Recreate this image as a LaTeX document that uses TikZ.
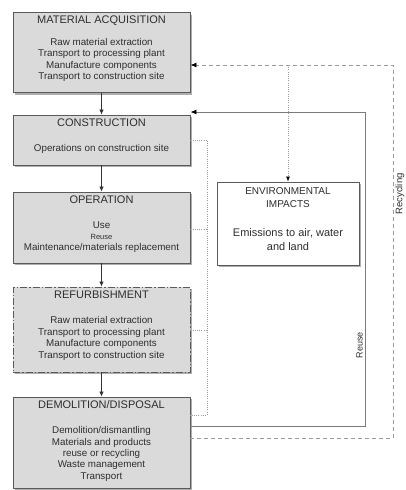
\documentclass[tikz,border=0pt]{standalone}
\usepackage{fontspec}
\setmainfont{Liberation Sans}
\usetikzlibrary{arrows.meta,shadows,calc}
\definecolor{boxfill}{HTML}{DADADA}
\definecolor{boxline}{HTML}{5A5A5A}
\definecolor{txt}{HTML}{2E2E2E}
\definecolor{linegray}{HTML}{7A7A7A}
\definecolor{dotgray}{HTML}{9A9A9A}
\tikzset{
  stage/.style={draw=boxline, fill=boxfill, line width=0.9pt, inner sep=0pt,
    minimum width=177pt,
    drop shadow={shadow xshift=1.6pt, shadow yshift=-2.2pt, opacity=0.45, fill=black!70}},
  refstage/.style={stage, dash pattern=on 7pt off 2pt on 1.5pt off 2pt},
  envbox/.style={draw=boxline, fill=white, line width=0.9pt, inner sep=0pt,
    drop shadow={shadow xshift=1.6pt, shadow yshift=-2.2pt, opacity=0.45, fill=black!70}},
  title/.style={text=txt, inner sep=0pt, font=\fontsize{11}{13}\selectfont},
  body/.style={text=txt, inner sep=0pt, align=center, font=\fontsize{9.8}{11.4}\selectfont},
  flow/.style={draw=black!80, line width=0.8pt, -{Latex[length=5pt,width=4.5pt]}},
  reuseline/.style={draw=linegray, line width=0.9pt, -{Latex[length=6pt,width=5pt,color=black]}},
  recycline/.style={draw=dotgray, line width=0.9pt, dash pattern=on 4pt off 3pt, -{Latex[length=6pt,width=5pt,color=black]}},
  impact/.style={draw=dotgray, line width=0.7pt, dash pattern=on 1pt off 1.2pt},
  sidelab/.style={text=txt, inner sep=0pt, rotate=90}
}
\begin{document}
\begin{tikzpicture}[x=1pt,y=-1pt]
\useasboundingbox (0,0) rectangle (405,490);

% stage boxes
\node[stage, minimum height=80pt] (ma) at (101.5,52.5) {};
\node[stage, minimum height=50pt] (cons) at (101.5,140) {};
\node[stage, minimum height=71pt] (oper) at (101.5,227.5) {};
\node[refstage, minimum height=85pt] (ref) at (101.5,329.5) {};
\node[stage, minimum height=91pt] (demo) at (101.5,442.5) {};
\node[envbox, minimum width=142pt, minimum height=83pt] (env) at (288,223.5) {};

% texts
\node[title] (mat) at (101.5,21) {MATERIAL ACQUISITION};
\node[body] (mab) at (101.5,60) {Raw material extraction\\Transport to processing plant\\Manufacture components\\Transport to construction site};
\node[title] (const) at (101.5,123) {CONSTRUCTION};
\node[body] (consb) at (101.5,149) {Operations on construction site};
\node[title] (opert) at (101.5,199.5) {OPERATION};
\node[body] (operb1) at (101.5,225) {Use};
\node[body, font=\fontsize{7.5}{9}\selectfont] (operb2) at (101.5,236.5) {Reuse};
\node[body] (operb3) at (101.5,248) {Maintenance/materials replacement};
\node[title] (reft) at (101.5,294.5) {REFURBISHMENT};
\node[body] (refb) at (101.5,338.5) {Raw material extraction\\Transport to processing plant\\Manufacture components\\Transport to construction site};
\node[title] (demot) at (101.5,404.5) {DEMOLITION/DISPOSAL};
\node[body] (demob) at (101.5,454) {Demolition/dismantling\\Materials and products\\reuse or recycling\\Waste management\\Transport};
\node[body, font=\fontsize{10}{12.5}\selectfont] (envt) at (288,197.5) {ENVIRONMENTAL\\IMPACTS};
\node[body, font=\fontsize{11}{14}\selectfont] (envb) at (288,240) {Emissions to air, water\\and land};

% main flow
\draw[flow] (ma) -- (cons);
\draw[flow] (cons) -- (oper);
\draw[flow] (oper) -- (ref);
\draw[flow] (ref) -- (demo);

% helper coordinates
\coordinate (ru1) at (365,426);
\coordinate (ru2) at (365,112);
\coordinate (rc1) at (393,438);
\coordinate (rc2) at (393,65);
\coordinate (bus1) at (207,140);
\coordinate (bus2) at (207,415);
\coordinate (bus3) at (207,229);
\coordinate (bus4) at (207,330);

% impacts (dotted)
\draw[impact] (cons.east |- bus1) -- (bus1) -- (bus2) -- (demo.east |- bus2);
\draw[impact] (oper.east |- bus3) -- (bus3);
\draw[impact] (ref.east |- bus4) -- (bus4);
\draw[impact, -{Latex[length=5pt,width=4pt,color=black]}] (env.north |- rc2) -- (env.north);

% reuse loop
\draw[reuseline] (demo.east |- ru1) -- (ru1) -- (ru2) -- (cons.east |- ru2);
\node[sidelab, font=\fontsize{9}{11}\selectfont] (reuselab) at (359.5,345) {Reuse};

% recycling loop
\draw[recycline] (demo.east |- rc1) -- (rc1) -- (rc2) -- (ma.east |- rc2);
\node[sidelab, font=\fontsize{9.5}{11}\selectfont] (recyclab) at (400,194) {Recycling};
\end{tikzpicture}
\end{document}
